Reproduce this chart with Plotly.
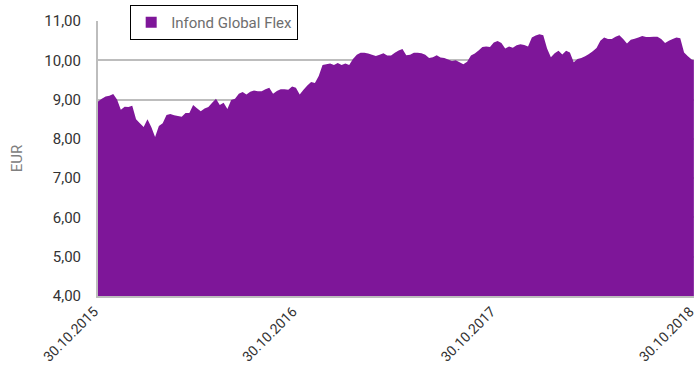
import pandas as pd
import plotly.graph_objects as go

# Weekly NAV of the fund (EUR), from 30.10.2015 to 30.10.2018
week_dates = [d.strftime("%Y-%m-%d") for d in pd.date_range("2015-10-30", periods=157, freq="7D")]
dates = week_dates + ["2018-10-30"]

nav = [
    8.95, 9.02, 9.08, 9.10, 9.14, 9.00, 8.74, 8.82, 8.81, 8.84,
    8.50, 8.40, 8.30, 8.50, 8.30, 8.05, 8.33, 8.40, 8.61, 8.63,
    8.60, 8.58, 8.56, 8.66, 8.66, 8.86, 8.78, 8.70, 8.77, 8.81,
    8.92, 9.02, 8.86, 8.92, 8.76, 8.99, 9.02, 9.15, 9.19, 9.13,
    9.20, 9.23, 9.21, 9.21, 9.26, 9.30, 9.15, 9.22, 9.26, 9.26,
    9.25, 9.33, 9.30, 9.13, 9.25, 9.36, 9.45, 9.42, 9.60, 9.88,
    9.90, 9.92, 9.88, 9.93, 9.88, 9.92, 9.88, 10.03, 10.14, 10.19,
    10.19, 10.17, 10.14, 10.11, 10.14, 10.18, 10.12, 10.12, 10.19, 10.25,
    10.29, 10.13, 10.14, 10.19, 10.19, 10.18, 10.14, 10.06, 10.08, 10.13,
    10.07, 10.06, 10.02, 9.98, 10.00, 9.95, 9.90, 9.96, 10.12, 10.17,
    10.25, 10.34, 10.35, 10.34, 10.45, 10.49, 10.44, 10.30, 10.35, 10.32,
    10.38, 10.41, 10.39, 10.35, 10.58, 10.63, 10.66, 10.64, 10.30, 10.08,
    10.18, 10.24, 10.15, 10.24, 10.20, 9.95, 10.03, 10.06, 10.10, 10.16,
    10.23, 10.31, 10.50, 10.58, 10.54, 10.54, 10.60, 10.64, 10.54, 10.43,
    10.52, 10.55, 10.58, 10.62, 10.59, 10.59, 10.60, 10.60, 10.54, 10.44,
    10.50, 10.54, 10.58, 10.56, 10.20, 10.10, 10.02, 10.00,
]

tick_dates = ["2015-10-30", "2016-10-30", "2017-10-30", "2018-10-30"]
tick_labels = ["30.10.2015", "30.10.2016", "30.10.2017", "30.10.2018"]
series_name = "Infond Global Flex"

FONT = "Roboto, Liberation Sans, sans-serif"
PURPLE = "#7E1699"
GRID = "#BDBDBD"

fig = go.Figure()

# the NAV area itself
fig.add_trace(
    go.Scatter(
        x=dates,
        y=nav,
        name=series_name,
        mode="none",
        fill="tozeroy",
        fillcolor=PURPLE,
        showlegend=False,
    )
)

# legend entry with a square swatch
fig.add_trace(
    go.Scatter(
        x=[None],
        y=[None],
        name=series_name,
        mode="markers",
        marker=dict(symbol="square", size=11, color=PURPLE),
        showlegend=True,
    )
)

fig.update_layout(
    width=696,
    height=372,
    margin=dict(l=98, r=2, t=21, b=76),
    paper_bgcolor="white",
    plot_bgcolor="white",
    separators=",.",
    font=dict(family=FONT, size=14, color="#333333"),
    showlegend=True,
    legend=dict(
        x=0.054,
        y=1.058,
        xanchor="left",
        yanchor="top",
        bgcolor="white",
        bordercolor="#000000",
        borderwidth=1,
        font=dict(family=FONT, size=15, color="#6E6E6E"),
        itemwidth=30,
        entrywidth=150,
    ),
)

fig.update_xaxes(
    type="date",
    range=["2015-10-30", "2018-10-30 06:00"],
    tickvals=tick_dates,
    ticktext=tick_labels,
    tickangle=-45,
    ticklabeloverflow="allow",
    ticklabelshift=-4,
    automargin=False,
    showgrid=False,
    showline=True,
    linecolor=GRID,
    linewidth=2,
    ticks="",
    tickfont=dict(family=FONT, size=14, color="#333333"),
)

fig.update_yaxes(
    range=[4, 11],
    dtick=1,
    tickformat=".2f",
    automargin=False,
    showgrid=True,
    gridcolor=GRID,
    gridwidth=2,
    showline=True,
    linecolor=GRID,
    linewidth=2,
    zeroline=False,
    ticks="",
    ticklabelstandoff=12,
    tickfont=dict(family=FONT, size=15, color="#333333"),
    title=dict(text="EUR", font=dict(family=FONT, size=15, color="#808080"), standoff=18),
)

fig.write_html("out.html")
